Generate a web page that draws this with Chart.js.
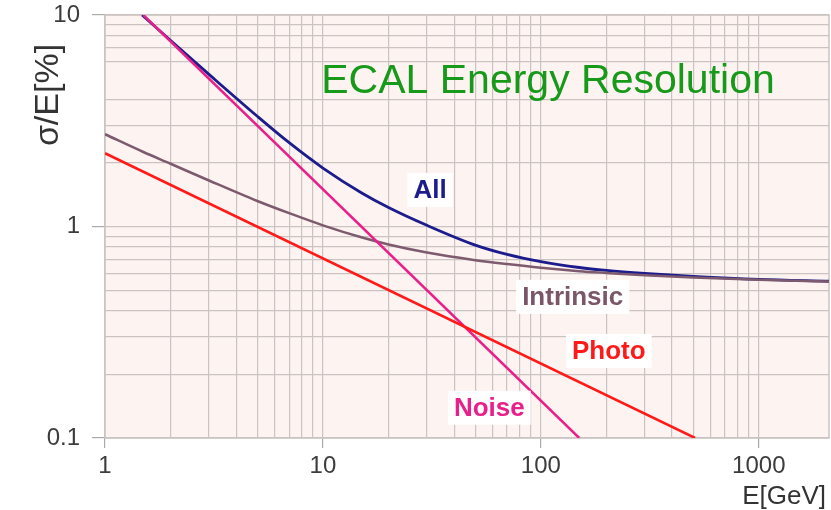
<!DOCTYPE html>
<html>
<head>
<meta charset="utf-8">
<script src="https://cdn.jsdelivr.net/npm/chart.js@4.4.1/dist/chart.umd.min.js"></script>
<style>
body { margin: 0; background: #fff; }
#wrap { width: 831px; height: 510px; position: relative; }
</style>
</head>
<body>
<div id="wrap"><canvas id="myChart"></canvas></div>
<script>
//VALORES (E en GeV, sigma/E en %)
var energiaAll = [1.48, 2, 3, 5, 7, 10, 15, 20, 30, 50, 70, 100, 150, 200, 300, 500, 1000, 2100];
var valoresAll = [10, 7.57, 5.24, 3.32, 2.49, 1.89, 1.445, 1.23, 1.013, 0.817, 0.738, 0.682, 0.64, 0.62, 0.6, 0.581, 0.562, 0.551];

var energiaIntrinsic = [1, 1.5, 2, 3, 5, 7, 10, 15, 20, 30, 50, 70, 100, 150, 200, 300, 500, 1000, 2100];
var valoresIntrinsic = [2.73, 2.25, 1.98, 1.65, 1.32, 1.156, 1.013, 0.889, 0.822, 0.753, 0.693, 0.664, 0.638, 0.615, 0.603, 0.588, 0.574, 0.56, 0.55];

var energiaPhoto = [1, 510];
var valoresPhoto = [2.22, 0.1];

var energiaNoise = [1.5, 150];
var valoresNoise = [10, 0.1];

//ticks de los ejes (las lineas menores no llevan etiqueta)
var xTicks = [1, 2, 3, 4, 5, 6, 7, 8, 9, 10, 20, 30, 40, 50, 60, 70, 80, 90, 100, 200, 300, 400, 500, 600, 700, 800, 900, 1000];
var xEtiquetas = [1, 10, 100, 1000];
var yTicks = [0.1, 0.2, 0.3, 0.4, 0.5, 0.6, 0.7, 0.8, 0.9, 1, 2, 3, 4, 6, 7, 8, 9, 10];
var yEtiquetas = [0.1, 1, 10];

//etiquetas de las curvas, en coordenadas de datos
var etiquetas = [
    { texto: 'All', e: 31, v: 1.49, color: '#1c1c8c' },
    { texto: 'Intrinsic', e: 140, v: 0.465, color: '#7a5668' },
    { texto: 'Photo', e: 205, v: 0.258, color: '#ff1a1a' },
    { texto: 'Noise', e: 58, v: 0.139, color: '#e8208a' }
];

var colorGrid = '#cbc3c1';

function puntos(xs, ys) {
    return xs.map(function (x, i) { return { x: x, y: ys[i] }; });
}

var pluginDibujo = {
    id: 'dibujo',
    beforeDraw: function (chart) {
        var a = chart.chartArea, c = chart.ctx;
        c.save();
        c.fillStyle = '#fdf4f1';
        c.fillRect(a.left, a.top, a.right - a.left, a.bottom - a.top);
        c.restore();
    },
    beforeDatasetsDraw: function (chart) {
        var a = chart.chartArea, c = chart.ctx;
        c.save();
        c.strokeStyle = colorGrid;
        c.lineWidth = 1.5;
        c.strokeRect(a.left, a.top, a.right - a.left, a.bottom - a.top);
        c.restore();
    },
    afterDatasetsDraw: function (chart) {
        var c = chart.ctx;
        var sx = chart.scales.x, sy = chart.scales.y;
        c.save();
        // titulo dentro del area
        c.font = '41px "Liberation Sans", Arial, sans-serif';
        c.fillStyle = '#17991a';
        c.textAlign = 'center';
        c.textBaseline = 'alphabetic';
        c.fillText('ECAL Energy Resolution', 548, 93);

        // etiquetas de curvas con fondo blanco
        c.font = 'bold 26px "Liberation Sans", Arial, sans-serif';
        c.textBaseline = 'middle';
        etiquetas.forEach(function (et) {
            var px = sx.getPixelForValue(et.e);
            var py = sy.getPixelForValue(et.v);
            var w = c.measureText(et.texto).width;
            c.fillStyle = '#ffffff';
            c.fillRect(px - w / 2 - 6, py - 17, w + 12, 34);
            c.fillStyle = et.color;
            c.fillText(et.texto, px, py + 1);
        });

        // titulos de ejes
        c.fillStyle = '#333333';
        c.font = '26px "Liberation Sans", Arial, sans-serif';
        c.textAlign = 'right';
        c.textBaseline = 'alphabetic';
        c.fillText('E[GeV]', 826, 504);

        c.translate(49, 95);
        c.rotate(-Math.PI / 2);
        c.font = '34px "Liberation Sans", Arial, sans-serif';
        c.textAlign = 'center';
        c.textBaseline = 'middle';
        c.fillText('σ/E[%]', 0, 0);
        c.restore();
    }
};

var ctx = document.getElementById('myChart').getContext('2d');
var myChart = new Chart(ctx, {
    type: 'line',
    data: {
        datasets: [
            { label: 'Photo', data: puntos(energiaPhoto, valoresPhoto), borderColor: '#ff1a1a', borderWidth: 2.5 },
            { label: 'Noise', data: puntos(energiaNoise, valoresNoise), borderColor: '#e8208a', borderWidth: 2.5 },
            { label: 'Intrinsic', data: puntos(energiaIntrinsic, valoresIntrinsic), borderColor: '#7d5a6e', borderWidth: 2.5, cubicInterpolationMode: 'monotone' },
            { label: 'All', data: puntos(energiaAll, valoresAll), borderColor: '#1c1c8c', borderWidth: 2.8, cubicInterpolationMode: 'monotone' }
        ]
    },
    options: {
        responsive: true,
        maintainAspectRatio: false,
        animation: false,
        layout: { padding: { top: 15, right: 2, left: 0, bottom: 0 } },
        elements: { point: { radius: 0 }, line: { fill: false } },
        plugins: {
            legend: { display: false },
            tooltip: { enabled: false }
        },
        scales: {
            x: {
                type: 'logarithmic',
                min: 1,
                max: 2100,
                afterBuildTicks: function (s) { s.ticks = xTicks.map(function (v) { return { value: v }; }); },
                afterFit: function (s) { s.height = 72; s.paddingLeft = 0; s.paddingRight = 0; },
                border: { display: false },
                grid: {
                    color: colorGrid,
                    lineWidth: 1.2,
                    tickLength: 10,
                    tickColor: function (c) { return c.tick && xEtiquetas.indexOf(c.tick.value) !== -1 ? '#aaaaaa' : 'rgba(0,0,0,0)'; }
                },
                ticks: {
                    autoSkip: false,
                    maxRotation: 0,
                    padding: 4,
                    color: '#3c3c3c',
                    font: { size: 24, family: '"Liberation Sans", Arial, sans-serif' },
                    callback: function (v) { return xEtiquetas.indexOf(v) !== -1 ? String(v) : ''; }
                }
            },
            y: {
                type: 'logarithmic',
                min: 0.1,
                max: 10,
                afterBuildTicks: function (s) { s.ticks = yTicks.map(function (v) { return { value: v }; }); },
                afterFit: function (s) { s.width = 105; s.paddingTop = 0; s.paddingBottom = 0; },
                border: { display: false },
                grid: {
                    color: colorGrid,
                    lineWidth: 1.2,
                    tickLength: 13,
                    tickColor: function (c) { return c.tick && yEtiquetas.indexOf(c.tick.value) !== -1 ? '#aaaaaa' : 'rgba(0,0,0,0)'; }
                },
                ticks: {
                    autoSkip: false,
                    padding: 12,
                    color: '#3c3c3c',
                    font: { size: 24, family: '"Liberation Sans", Arial, sans-serif' },
                    callback: function (v) { return yEtiquetas.indexOf(v) !== -1 ? String(v) : ''; }
                }
            }
        }
    },
    plugins: [pluginDibujo]
});
</script>
</body>
</html>
